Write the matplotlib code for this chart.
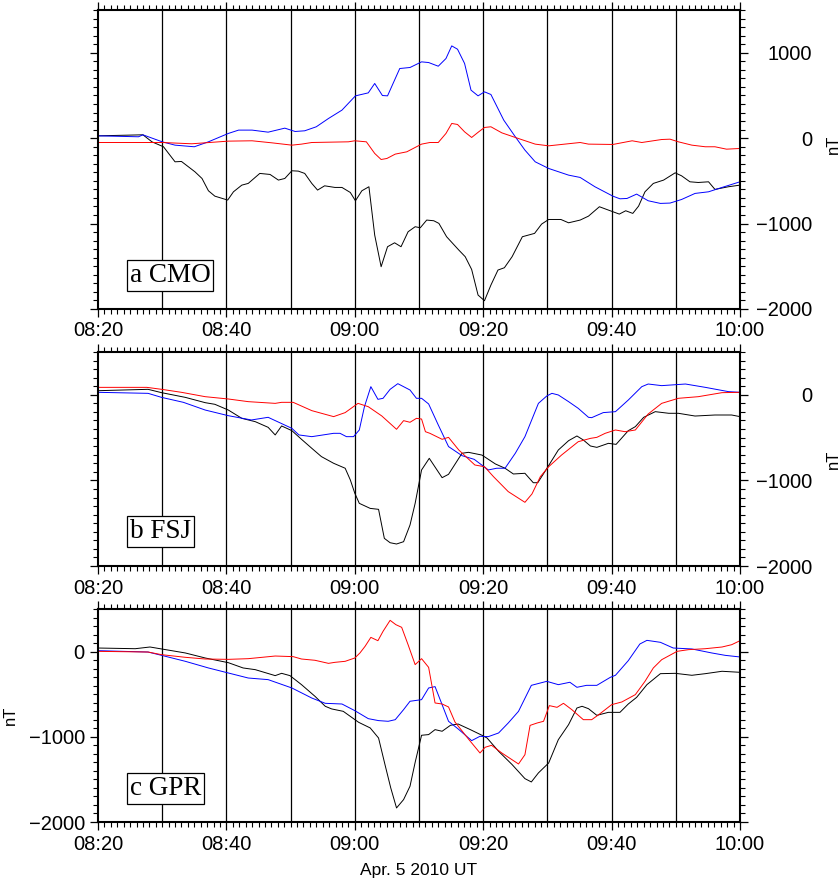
import matplotlib
matplotlib.use("Agg")
import matplotlib.pyplot as plt
from matplotlib.ticker import MultipleLocator, FixedLocator

# ---- time axis (minutes after 08:20 UT, Apr. 5 2010) ----
xtick_pos = [0, 20, 40, 60, 80, 100]
xtick_labels = ["08:20", "08:40", "09:00", "09:20", "09:40", "10:00"]
vline_pos = [10, 20, 30, 40, 50, 60, 70, 80, 90]

# ---- a CMO ----
cmo_blue_t = [0, 6.3, 7, 10, 12, 15, 17.2, 20.3, 21.9, 24, 26.5, 29.1, 30.7, 32.2, 34, 35.9, 38, 40.1, 42.1, 43.1,
              44.3, 45.1, 47, 48.6, 50.4, 51.5, 53, 54.2, 55.1, 56, 57.1, 58.1, 59.2, 60.2, 61.2, 63.2, 65, 66.5, 68.1, 70.2,
              73.3, 75.1, 77.4, 80.2, 81.3, 82.4, 83.9, 85.7, 87.6, 89.1, 90.9, 93, 95.1, 97.2, 100]
cmo_blue_v = [27, 16, 39, -43, -82, -101, -43, 55, 94, 94, 70, 117, 78, 86, 133, 230, 328, 495, 530, 640,
              499, 495, 815, 827, 893, 885, 842, 932, 1080, 1041, 874, 562, 495, 542, 511, 211, 16, -140, -277, -355,
              -433, -460, -569, -679, -710, -706, -655, -733, -764, -760, -718, -647, -628, -577, -511]
cmo_red_t = [0, 10, 14.6, 20.3, 24, 27.1, 30.2, 31.7, 33.3, 39, 40, 41.8, 43.1, 44.1, 45, 46.3, 48.1, 50.4, 51.7, 53,
             54.2, 55.1, 56, 57.1, 58.2, 59.3, 60.2, 61.2, 62.9, 65, 68.1, 70.2, 72.2, 75.1, 76.4, 80.2, 83.2, 84.7, 87.8, 89.1,
             90.4, 92.5, 94.6, 96.1, 97.9, 100]
cmo_red_v = [-51, -51, -66, -35, -31, -55, -82, -70, -51, -43, -31, -43, -179, -250, -238, -187, -160, -70, -51, -51,
             55, 172, 160, 74, 8, 74, 125, 133, 62, 8, -70, -90, -74, -51, -70, -74, -31, -51, -16, -12,
             -43, -82, -101, -101, -129, -121]
cmo_black_t = [0, 7, 8.4, 10.2, 12, 13, 15.1, 16.2, 17.2, 18.2, 20.2, 21.1, 22.4, 23.4, 25.2, 26.8, 28.1, 29.1, 30.2, 31.2,
               32.2, 33.3, 34.2, 35.3, 36.9, 38, 39.3, 40.1, 41.1, 42.2, 43.1, 44.1, 45.1, 46.2, 47.2, 48.3, 49.4, 50.2, 51.2, 52.3,
               53.1, 54.3, 56.2, 57.2, 58.2, 59.2, 60.2, 61.2, 62.3, 63.3, 64.5, 66.1, 68, 69.1, 70.2, 72.1, 73.3, 75.1, 76.4, 78.1,
               79.5, 81.2, 82.2, 83.3, 84.2, 85.2, 86.5, 88.1, 89.9, 90.9, 92.2, 93.5, 95.1, 96.1, 98.2, 100]
cmo_black_v = [27, 39, -43, -101, -277, -273, -394, -472, -616, -679, -725, -628, -550, -530, -413, -425, -491, -472, -382, -386,
               -413, -530, -608, -558, -577, -577, -636, -733, -616, -569, -1135, -1505, -1271, -1225, -1271, -1096, -1037, -1049, -959, -967,
               -998, -1154, -1310, -1388, -1537, -1837, -1903, -1720, -1544, -1517, -1388, -1154, -1115, -1006, -952, -952, -991, -959, -913, -803,
               -842, -889, -850, -881, -796, -628, -530, -491, -406, -441, -511, -519, -511, -600, -569, -550]

# ---- b FSJ ----
fsj_red_t = [0, 7.6, 9.9, 13, 16.7, 20.3, 23.4, 27.6, 28.6, 30.4, 33.3, 36.7, 38.5, 40.5, 42.1, 44.2, 46.5, 47.6, 48.6, 49.6,
             50.4, 51, 51.7, 53.6, 54.6, 56.2, 58.7, 60.2, 61.6, 63.9, 66.5, 67.6, 68.9, 70.2, 72.2, 74.8, 76.7, 77.7, 79, 80.6,
             82.1, 83.7, 85.7, 87.8, 90.4, 93.5, 97.2, 100]
fsj_red_v = [87, 87, 64, 29, -22, -49, -80, -100, -88, -88, -185, -255, -208, -100, -139, -247, -403, -302, -321, -275,
             -283, -431, -450, -520, -497, -645, -820, -840, -956, -1131, -1256, -1158, -956, -840, -704, -548, -509, -497, -450, -411,
             -431, -411, -224, -100, -41, -22, 25, 29]
fsj_blue_t = [0, 7.8, 9.9, 13.3, 16.7, 20.3, 23.9, 26.5, 30.2, 31.3, 33.3, 35.4, 36.7, 37.7, 38.7, 39.8, 40.7, 41.5, 42.5, 43.6,
              44.4, 45.5, 46.7, 48.6, 49.6, 50.4, 51.5, 53, 54.6, 56.7, 58.6, 60.8, 62.1, 63.4, 65, 66.5, 68.6, 69.9, 70.7, 71.7,
              73.3, 74.8, 76.4, 76.9, 78.7, 80.6, 82.6, 84.7, 85.7, 87.8, 91.5, 94.6, 98.2, 100]
fsj_blue_v = [29, 17, -30, -88, -178, -244, -294, -263, -392, -469, -489, -465, -450, -450, -489, -489, -411, -139, 95, -53,
              -41, 64, 130, 56, -41, -41, -107, -352, -605, -711, -754, -878, -858, -858, -683, -489, -100, -14, 17, -2,
              -80, -158, -263, -267, -208, -197, -61, 95, 126, 107, 126, 87, 37, 29]
fsj_black_t = [0, 7.8, 9.9, 13.6, 16.7, 18.2, 20.3, 22.4, 24.5, 26.5, 27.6, 28.6, 30.2, 31.7, 33.3, 34.8, 36.7, 38.5, 39.3, 40,
               40.7, 42.4, 43.7, 44.6, 45.5, 46.5, 47.6, 48.6, 49.4, 50.4, 51.6, 53.6, 54.6, 56.7, 57.7, 59.8, 61.9, 63.4, 64.7, 66.5,
               67.8, 68.5, 69.6, 71.7, 73.3, 74.6, 75.6, 76.7, 77.7, 79.5, 80.7, 82.6, 83.7, 85, 86.8, 88.9, 90.4, 93, 96.1, 98.7, 100]
fsj_black_v = [48, 64, 25, -30, -92, -111, -178, -275, -314, -380, -469, -364, -419, -520, -625, -722, -800, -858, -994, -1150,
               -1268, -1327, -1338, -1677, -1728, -1743, -1716, -1521, -1268, -878, -742, -968, -929, -683, -672, -704, -808, -858, -925, -917,
               -1027, -1027, -898, -645, -536, -481, -528, -598, -614, -567, -579, -419, -372, -263, -197, -216, -216, -248, -236, -236, -255]

# ---- c GPR ----
gpr_red_t = [0, 7.8, 9.9, 13.6, 16.7, 20.3, 23.4, 27.6, 30.4, 31.7, 33.8, 35.9, 36.9, 38.5, 40, 40.8, 41.6, 42.5, 43.6, 44.4,
             45.5, 46.4, 47.3, 48.3, 49.4, 50.4, 51.5, 52.5, 53.6, 54.6, 55.6, 57.7, 59.5, 60.3, 61.3, 62.9, 65.5, 66.5, 67.3, 68.4,
             69.4, 70.3, 71.5, 72.5, 73.8, 75.6, 76.9, 78, 80, 81.6, 83.7, 85.2, 86.5, 87.8, 90.2, 92, 94.6, 97.2, 98.7, 100]
gpr_red_v = [3, -5, -36, -67, -87, -91, -83, -52, -59, -87, -102, -138, -126, -114, -75, -16, 62, 167, 128, 238,
             367, 316, 285, 81, -153, -83, -185, -603, -615, -650, -826, -1026, -1190, -1123, -1100, -1190, -1319, -1210, -866, -838,
             -818, -634, -654, -607, -681, -799, -799, -740, -623, -591, -505, -349, -192, -95, 3, 23, 34, 54, 81, 128]
gpr_blue_t = [0, 7.8, 9.9, 13.6, 17.2, 20.3, 23.4, 26.5, 30.2, 33.3, 35.4, 38, 40, 42.1, 43.7, 45.2, 46.3, 47.6, 48.6, 50.4,
              51.5, 52.5, 53.6, 54.6, 56.1, 58.2, 59.5, 60.8, 62.4, 63.9, 65.5, 67.5, 69.9, 71.7, 73.5, 74.6, 76.1, 77.7, 79.8, 80.6,
              82.6, 84.4, 85.5, 87.6, 89.6, 92.5, 95.6, 97.7, 100]
gpr_blue_v = [11, -5, -44, -114, -192, -251, -310, -329, -427, -545, -607, -615, -693, -787, -810, -818, -799, -681, -583, -564,
              -427, -411, -623, -818, -908, -1045, -994, -998, -955, -838, -701, -396, -349, -388, -360, -419, -396, -396, -302, -278,
              -106, 89, 132, 109, 42, 31, -16, -44, -63]
gpr_black_t = [0, 5.8, 8.1, 9.9, 13.6, 16.7, 20.3, 22.6, 24.5, 27.6, 28.6, 29.9, 31.7, 33.8, 35.4, 36.4, 38.2, 39.8, 40.6, 42.4,
               43.7, 44.7, 45.6, 46.5, 47.6, 48.6, 49.4, 50.4, 51.5, 52.5, 53.6, 54.9, 56.1, 58, 59.8, 60.6, 62.4, 64.5, 66.5, 67.5,
               68.6, 70.2, 71.7, 73.3, 74.6, 75.4, 76.4, 77.7, 79.5, 81.3, 82.6, 83.9, 85.5, 87.6, 89.9, 92.5, 94.6, 97.2, 100]
gpr_black_v = [42, 34, 54, 31, -16, -75, -130, -192, -212, -282, -255, -282, -388, -525, -642, -673, -701, -787, -830, -896,
               -1014, -1326, -1600, -1835, -1737, -1580, -1300, -982, -974, -916, -935, -865, -850, -916, -982, -1014, -1170, -1326, -1491, -1530,
               -1424, -1307, -1034, -857, -662, -642, -670, -748, -713, -713, -615, -537, -388, -259, -255, -278, -259, -231, -243]

panel_labels = ["a CMO", "b FSJ", "c GPR"]
ylims = [(-2000, 1500), (-2000, 500), (-2000, 500)]
ylabel = "nT"
xlabel = "Apr. 5 2010 UT"

SANS = ["Liberation Sans", "DejaVu Sans"]
SERIF = ["Liberation Serif", "DejaVu Serif"]
plt.rcParams["font.family"] = SANS

W, H = 840, 881
fig = plt.figure(figsize=(W / 100, H / 100), dpi=100)

def frac(left, top, right, bottom):
    return [left / W, 1 - bottom / H, (right - left) / W, (bottom - top) / H]

rects = [frac(98, 10, 740, 309), frac(98, 352, 740, 566), frac(98, 609, 740, 822)]
data = [
    [(cmo_black_t, cmo_black_v), (cmo_blue_t, cmo_blue_v), (cmo_red_t, cmo_red_v)],
    [(fsj_black_t, fsj_black_v), (fsj_blue_t, fsj_blue_v), (fsj_red_t, fsj_red_v)],
    [(gpr_black_t, gpr_black_v), (gpr_blue_t, gpr_blue_v), (gpr_red_t, gpr_red_v)],
]
colors = ["black", "#0000ff", "#ff0000"]
label_y = [21 / 299, 22 / 214, 21 / 213]

for i, (rect, series) in enumerate(zip(rects, data)):
    ax = fig.add_axes(rect)
    for x in vline_pos:
        ax.axvline(x, color="black", lw=0.9, zorder=1)
    for (t, v), c in zip(series, colors):
        ax.plot(t, v, color=c, lw=0.7, zorder=2)
    ax.set_xlim(0, 100)
    ax.set_ylim(*ylims[i])
    ax.xaxis.set_major_locator(FixedLocator(xtick_pos))
    ax.set_xticklabels(xtick_labels)
    ax.xaxis.set_minor_locator(MultipleLocator(1))
    ax.yaxis.set_major_locator(MultipleLocator(1000))
    ax.yaxis.set_minor_locator(MultipleLocator(100))
    for s in ax.spines.values():
        s.set_linewidth(1.5)
    ax.tick_params(which="both", direction="out", top=True, bottom=True, left=True, right=True)
    ax.tick_params(which="major", length=6, width=0.9)
    ax.tick_params(which="minor", length=3.5, width=0.8)
    ax.tick_params(axis="x", labelsize=14.5, pad=3)
    ax.tick_params(axis="y", labelsize=14.5)
    if i < 2:
        ax.tick_params(axis="y", labelleft=False, labelright=True, pad=46)
        for lab in ax.get_yticklabels():
            lab.set_horizontalalignment("right")
        ax.text(1.0 + 93 / 642, 0.5 if i == 1 else 0.55, ylabel, transform=ax.transAxes,
                rotation=90, ha="center", va="center", fontsize=12)
    else:
        ax.tick_params(axis="y", labelleft=True, labelright=False, pad=3.5)
        ax.text(-88 / 642, 0.5, ylabel, transform=ax.transAxes,
                rotation=90, ha="center", va="center", fontsize=12)
    ax.text(32 / 642, label_y[i], panel_labels[i], transform=ax.transAxes, family=SERIF,
            fontsize=19.5, ha="left", va="bottom",
            bbox=dict(boxstyle="square,pad=0.1", fc="white", ec="black", lw=0.9), zorder=5)
    if i == 2:
        ax.text(0.5, -48 / 213, xlabel, transform=ax.transAxes, ha="center", va="center", fontsize=12.5)

fig.savefig("out.png", dpi=100)
